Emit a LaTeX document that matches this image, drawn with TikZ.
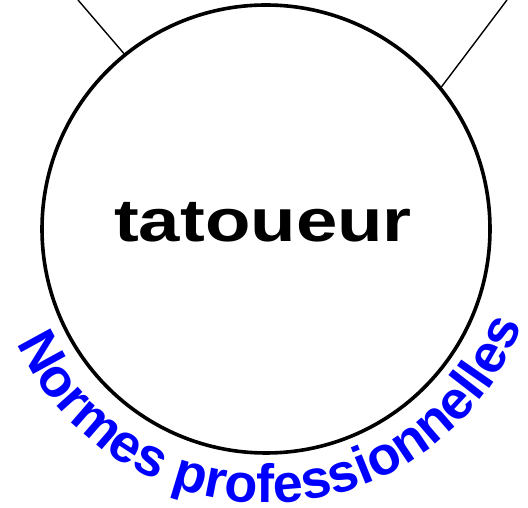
\documentclass[tikz,border=0pt]{standalone}
\usepackage{fontspec}
\setmainfont{Liberation Sans}
\usetikzlibrary{decorations.text}
\definecolor{labelblue}{RGB}{0,0,255}
\tikzset{
  roundnode/.style={circle, draw=black, line width=3.6pt, minimum size=448pt, inner sep=0pt},
  linkline/.style={draw=black, line width=1.4pt},
}
\begin{document}
\begin{tikzpicture}[x=1pt,y=1pt]
\useasboundingbox (0,0) rectangle (528,508);
\clip (0,0) rectangle (528,508);
\node[roundnode] (c) at (266,279) {};
\node[anchor=base, inner sep=0pt] (t) at (263,266) {\scalebox{1.24}[1]{\fontsize{60}{64}\selectfont\bfseries tatoueur}};
\coordinate (l1) at (78,508);
\coordinate (l2) at (507,508);
\draw[linkline] (l1) -- (c.129.5);
\draw[linkline] (l2) -- (c.39.1);
\path[decorate, decoration={text along path, text align=center,
  text={|\fontsize{54}{56}\selectfont\bfseries\color{labelblue}|Normes professionnelles}}]
  (266,279) ++(182:274) arc[start angle=182, end angle=362, radius=274];
\end{tikzpicture}
\end{document}
